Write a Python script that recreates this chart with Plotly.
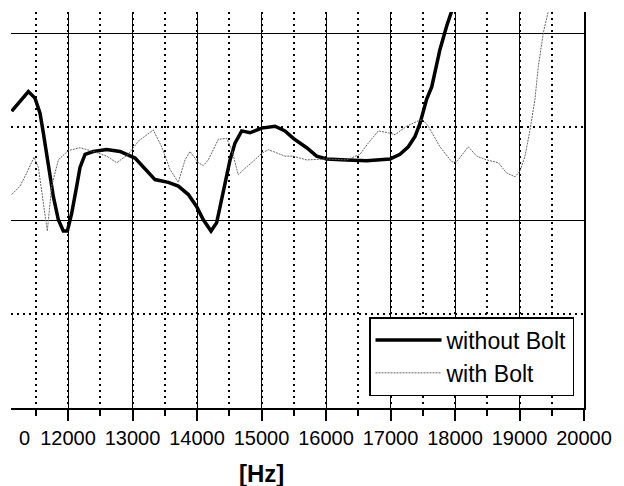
import plotly.graph_objects as go

# frequency [Hz] and level (arbitrary units, 0 = bottom axis, grid every 10)
f_without = [11127, 11256, 11385, 11488, 11566, 11617, 11670, 11721, 11772, 11850, 11927, 11990,
             12057, 12135, 12186, 12264, 12393, 12600, 12806, 13039, 13194, 13349, 13555, 13710,
             13866, 13995, 14098, 14217, 14305, 14408, 14512, 14589, 14693, 14822, 15003, 15209,
             15364, 15493, 15700, 15855, 16010, 16321, 16631, 16992, 17147, 17276, 17380, 17457,
             17519, 17561, 17639, 17767, 17871, 17949]
a_without = [31.7, 32.8, 33.8, 33.1, 31.5, 29.4, 26.9, 24.7, 22.6, 20.1, 18.9, 18.9,
             20.8, 23.7, 25.7, 27.1, 27.4, 27.6, 27.4, 26.7, 25.5, 24.4, 24.1, 23.7,
             22.8, 21.5, 20.1, 18.9, 19.8, 23.3, 26.5, 28.3, 29.6, 29.4, 29.9, 30.1,
             29.6, 28.8, 27.8, 26.9, 26.6, 26.5, 26.4, 26.6, 27.1, 27.9, 29.0, 30.4,
             31.9, 33.0, 34.3, 38.3, 40.8, 42.4]

f_with = [11127, 11256, 11359, 11473, 11540, 11617, 11679, 11747, 11850, 12005, 12186, 12393,
          12600, 12755, 12935, 13090, 13322, 13453, 13581, 13710, 13814, 13891, 14020, 14098,
          14175, 14330, 14460, 14538, 14640, 14744, 14848, 15003, 15106, 15364, 15493, 15700,
          16010, 16321, 16527, 16656, 16811, 16966, 17070, 17251, 17406, 17499, 17586, 17767,
          17949, 18026, 18206, 18336, 18491, 18671, 18801, 18930, 19008, 19085, 19163, 19240,
          19292, 19370, 19447]
a_with = [22.8, 23.7, 25.1, 26.8, 25.7, 21.9, 18.9, 23.7, 26.5, 27.5, 27.8, 27.4,
          26.9, 26.2, 27.1, 28.5, 29.7, 27.9, 25.5, 24.1, 26.5, 27.4, 26.2, 25.9,
          26.5, 28.7, 28.8, 27.6, 24.9, 25.6, 26.2, 27.2, 27.6, 26.9, 26.9, 26.5,
          26.6, 26.5, 27.1, 28.3, 29.6, 29.4, 29.2, 30.1, 30.6, 30.8, 30.1, 27.9,
          26.3, 26.3, 27.9, 26.9, 26.5, 26.2, 25.1, 24.7, 25.3, 26.9, 29.7, 33.0,
          36.5, 40.1, 42.4]

x_range = [11116, 20000]
y_range = [0, 42.3]
first_tick = 11000
first_tick_visible = "0"   # only the last digit of the 11000 label is visible at the left edge
x_ticks = list(range(12000, 20001, 1000))

FONT = "Liberation Sans, Arial, sans-serif"

fig = go.Figure()
fig.add_trace(go.Scatter(x=f_without, y=a_without, mode="lines", name="without Bolt",
                         line=dict(color="black", width=3.5), legendgroup="a"))
fig.add_trace(go.Scatter(x=f_with, y=a_with, mode="lines", name="with Bolt",
                         line=dict(color="#666666", width=1, dash="2px,1px"), legendgroup="b"))

fig.update_layout(
    width=624, height=486,
    margin=dict(l=11, r=40, t=12, b=78),
    plot_bgcolor="white", paper_bgcolor="white",
    font=dict(family=FONT, size=20, color="black"),
    showlegend=True,
    legend=dict(x=(369 - 11) / 573, y=(408 - 317) / 396, xanchor="left", yanchor="top",
                bgcolor="white", bordercolor="black", borderwidth=1.5,
                itemwidth=66,
                font=dict(size=23, family=FONT), traceorder="grouped", tracegroupgap=0),
    xaxis=dict(range=x_range, tickvals=x_ticks, ticktext=[str(v) for v in x_ticks],
               showgrid=True, gridcolor="black", gridwidth=1,
               showline=True, linecolor="black", linewidth=1.5,
               ticks="outside", ticklen=11, tickcolor="black", tickwidth=1.5,
               zeroline=False,
               minor=dict(dtick=500, tick0=11000, showgrid=True, gridcolor="black",
                          griddash="2px,4px", gridwidth=1.5,
                          ticks="outside", ticklen=6, tickcolor="black", tickwidth=1.5)),
    yaxis=dict(range=y_range, dtick=20, tick0=0, showticklabels=False,
               showgrid=True, gridcolor="black", gridwidth=1.2,
               side="right", showline=True, linecolor="black", linewidth=1.5,
               ticks="", zeroline=False,
               minor=dict(dtick=10, tick0=0, showgrid=True, gridcolor="black",
                          griddash="2px,4px", gridwidth=1.5)),
)

# visible remainder of the first tick label at the left edge
fig.add_annotation(x=(first_tick - x_range[0]) / (x_range[1] - x_range[0]), xref="paper",
                   xanchor="right", xshift=28,
                   y=0, yref="paper", yanchor="top", yshift=-17, showarrow=False,
                   text=first_tick_visible, font=dict(size=20, family=FONT))
# axis unit
fig.add_annotation(x=15000, xref="x", y=0, yref="paper", yanchor="top", yshift=-50,
                   showarrow=False, text="<b>[Hz]</b>", font=dict(size=24, family=FONT))

fig.write_html("out.html")
